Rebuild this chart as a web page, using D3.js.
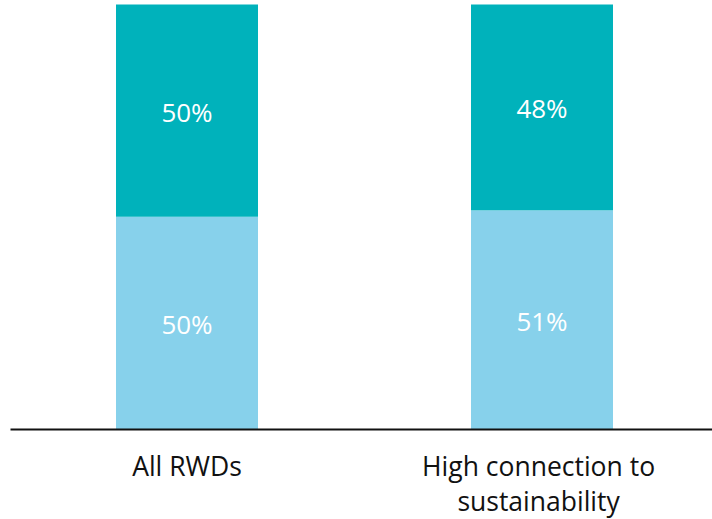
<!DOCTYPE html>
<html><head><meta charset="utf-8">
<script src="https://cdn.jsdelivr.net/npm/d3@7"></script>
<style>body{margin:0;background:#fff}svg{display:block}</style>
</head><body>
<svg id="chart" width="712" height="519"></svg>
<script>
const categories = ["All RWDs", "High connection to sustainability"];
const categoryLines = [["All RWDs"], ["High connection to ", "sustainability "]];
const seriesNames = ["bottom", "top"];
const bottomValues = [50, 51];
const topValues = [50, 48];
const colors = ["#87d1eb", "#00b2bb"];

const svg = d3.select("#chart");
const baseY = 429;

const rows = categories.map((c, i) => ({cat: c, bottom: bottomValues[i], top: topValues[i]}));
const stack = d3.stack().keys(seriesNames).offset(d3.stackOffsetExpand);
const series = stack(rows);

const xc = d3.scalePoint().domain(categories).range([187, 542]);
const barW = 142;
const y = d3.scaleLinear().domain([0, 1]).range([baseY, 4.5]);

const g = svg.append("g");
series.forEach((s, si) => {
  g.selectAll(null).data(s).enter().append("rect")
    .attr("x", d => xc(d.data.cat) - barW / 2)
    .attr("width", barW)
    .attr("y", d => y(d[1]))
    .attr("height", d => y(d[0]) - y(d[1]))
    .attr("fill", colors[si]);
  g.selectAll(null).data(s).enter().append("text")
    .attr("x", d => xc(d.data.cat))
    .attr("y", d => (y(d[0]) + y(d[1])) / 2)
    .attr("dy", "0.42em")
    .attr("text-anchor", "middle")
    .attr("fill", "#fff")
    .attr("font-family", "'Open Sans', sans-serif")
    .attr("font-size", 26)
    .text(d => (si === 0 ? bottomValues : topValues)[categories.indexOf(d.data.cat)] + "%");
});

const axis = d3.axisBottom(d3.scaleLinear().domain([0, 1]).range([10, 712])).ticks(0).tickSize(0).tickFormat("");
svg.append("g").attr("transform", `translate(0,${baseY})`).call(axis)
  .call(a => a.select(".domain").attr("stroke", "#111").attr("stroke-width", 2));

categories.forEach((c, i) => {
  const t = svg.append("text")
    .attr("x", xc(c))
    .attr("y", 476)
    .attr("text-anchor", "middle")
    .attr("fill", "#111")
    .style("white-space", "pre")
    .attr("font-family", "'Open Sans', sans-serif")
    .attr("font-size", 26.5);
  categoryLines[i].forEach((ln, j) => {
    t.append("tspan").attr("x", xc(c)).attr("y", 476 + j * 35).text(ln);
  });
});
</script>
</body></html>
